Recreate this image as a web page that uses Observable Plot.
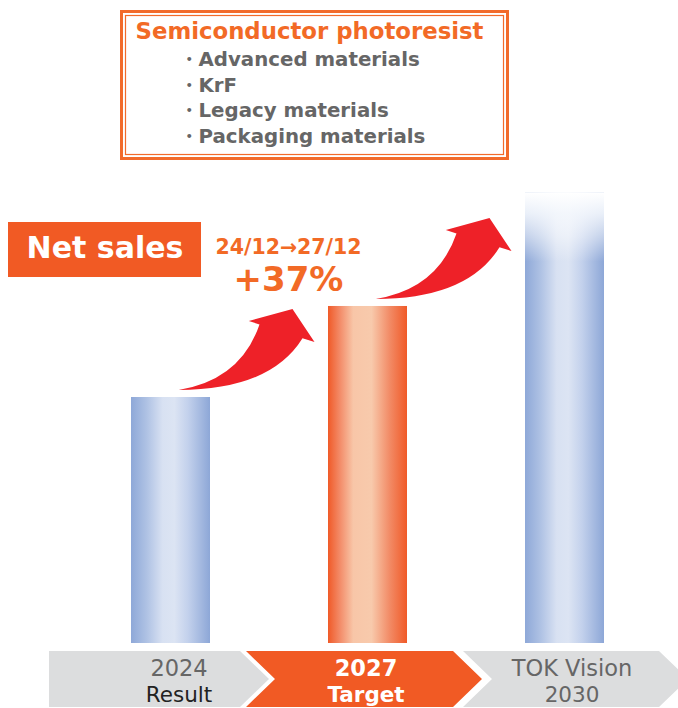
<!DOCTYPE html>
<html><head><meta charset="utf-8">
<script src="https://cdn.jsdelivr.net/npm/d3@7"></script>
<script src="https://cdn.jsdelivr.net/npm/@observablehq/plot@0.6"></script>
<style>body{margin:0;background:#fff} #chart{width:678px;height:708px}</style>
</head><body><div id="chart"></div>
<script>
// ---- data ----
const categories = ["2024", "2027", "2030"];
const netSales = [100, 137, 183];          // index: 2024 result = 100
const labelTop = ["2024", "2027", "TOK Vision"];
const labelBottom = ["Result", "Target", "2030"];
const seriesTitle = "Net sales";
const growthPeriod = "24/12→27/12";
const growthRate = "+37%";
const boxTitle = "Semiconductor photoresist";
const boxItems = ["Advanced materials", "KrF", "Legacy materials", "Packaging materials"];
const arrowPairs = [["2024", "2027"], ["2027", "2030"]];

const data = categories.map((c, i) => ({cat: c, value: netSales[i], top: labelTop[i], bottom: labelBottom[i]}));

const ORANGE = "#F15A24";
const FONT = "DejaVu Sans, Verdana, sans-serif";

// ---- decorations (render functions) ----
const defsMark = () => {
  const defs = d3.create("svg:defs");
  const grad = (id, stops, vertical) => {
    const g = defs.append("linearGradient").attr("id", id)
      .attr("x1", 0).attr("y1", 0).attr("x2", vertical ? 0 : 1).attr("y2", vertical ? 1 : 0);
    stops.forEach(([o, c, op = 1]) => g.append("stop").attr("offset", o).attr("stop-color", c).attr("stop-opacity", op));
  };
  grad("gBlue", [[0, "#8EA8D8"], [0.2, "#AFC2E4"], [0.4, "#D8E1F2"], [0.55, "#DCE4F3"], [0.72, "#C3D1EC"], [1, "#8DA7D7"]]);
  grad("gOrange", [[0, "#F05A28"], [0.15, "#F38B68"], [0.32, "#F8C6A8"], [0.55, "#F8CAAC"], [0.78, "#F28B66"], [1, "#F05A28"]]);
  grad("gFade", [[0, "#ffffff", 1], [0.3, "#f6f9fd", 0.88], [0.65, "#ffffff", 0.45], [1, "#ffffff", 0]], true);
  return defs.node();
};

const chevronMark = () => {
  const g = d3.create("svg:g");
  const yT = 651, yM = 679, yB = 707, s = 29;
  const edges = [[49, 240], [246, 453], [463, 659]];
  edges.forEach(([l, r], i) => {
    const pts = i === 0
      ? [[l, yT], [r, yT], [r + s, yM], [r, yB], [l, yB]]
      : [[l, yT], [r, yT], [r + s, yM], [r, yB], [l, yB], [l + s, yM]];
    g.append("polygon").attr("points", pts.map(p => p.join(",")).join(" "))
      .attr("fill", i === 1 ? ORANGE : "#DCDDDE");
  });
  return g.node();
};

const boxesMark = () => {
  const g = d3.create("svg:g");
  g.append("rect").attr("x", 121.5).attr("y", 11.5).attr("width", 386).attr("height", 147)
    .attr("fill", "#fff").attr("stroke", "#F26B2B").attr("stroke-width", 3);
  g.append("rect").attr("x", 125.5).attr("y", 15.5).attr("width", 378).attr("height", 139)
    .attr("fill", "none").attr("stroke", "#F26B2B").attr("stroke-width", 1.2);
  g.append("rect").attr("x", 8).attr("y", 222).attr("width", 193).attr("height", 55).attr("fill", ORANGE);
  return g.node();
};

const arrowMark = (index, scales) => {
  const x = scales.x, y = scales.y;
  const bw = x.bandwidth();
  const g = d3.create("svg:g");
  arrowPairs.forEach(([from]) => {
    const d = data.find(e => e.cat === from);
    const tx = x(from) + bw / 2 + 8, ty = y(d.value) - 7;
    const P = (px, py) => `${tx + px},${ty + py}`;
    const path = `M${P(0, 0)} Q${P(62, -10)} ${P(81, -65.5)} L${P(70.3, -69)} L${P(114, -81)} L${P(136, -48)} L${P(124, -51.7)} Q${P(92, 0)} ${P(0, 0)} Z`;
    g.append("path").attr("d", path).attr("fill", "#EE2128");
  });
  return g.node();
};

// ---- chevron labels ----
const labelDx = {"2024": 8, "2027": -2, "2030": 7};
const labelMarks = [];
data.forEach(d => {
  const hi = d.cat === "2027";
  labelMarks.push(Plot.text([d], {x: "cat", text: "top", frameAnchor: "bottom", dx: labelDx[d.cat], dy: -33,
    lineAnchor: "bottom", fontSize: 22.5, fontWeight: hi ? "bold" : "normal", fill: hi ? "#fff" : "#666", fontFamily: FONT}));
  labelMarks.push(Plot.text([d], {x: "cat", text: "bottom", frameAnchor: "bottom", dx: labelDx[d.cat], dy: -7,
    lineAnchor: "bottom", fontSize: 21.5, fontWeight: hi ? "bold" : "normal", fill: hi ? "#fff" : (d.cat === "2024" ? "#222" : "#666"), fontFamily: FONT}));
});

const chart = Plot.plot({
  width: 678, height: 708,
  marginTop: 0, marginRight: 0, marginBottom: 0, marginLeft: 0,
  x: {type: "band", domain: categories, range: [130, 604], paddingInner: 0.6, paddingOuter: 0, axis: null},
  y: {domain: [0, 200], range: [643, 151], axis: null},
  color: {type: "identity"},
  style: {background: "#fff", fontFamily: FONT, overflow: "visible"},
  marks: [
    defsMark,
    boxesMark,
    Plot.barY(data, {x: "cat", y: "value", fill: d => d.cat === "2027" ? "url(#gOrange)" : "url(#gBlue)"}),
    Plot.barY(data.filter(d => d.cat === "2030"), {x: "cat", y1: d => d.value - 28, y2: "value", fill: "url(#gFade)"}),
    arrowMark,
    chevronMark,
    ...labelMarks,
    Plot.text([boxTitle], {text: d => d, frameAnchor: "top-left", dx: 309, dy: 38, textAnchor: "middle", lineAnchor: "bottom",
      fontSize: 22.8, fontWeight: "bold", fill: "#F26A26", fontFamily: FONT}),
    Plot.text([boxItems.map(s => "・" + s).join("\n")], {text: d => d, frameAnchor: "top-left", dx: 178, dy: 142,
      textAnchor: "start", lineAnchor: "bottom", lineHeight: 25.5 / 19.8, fontSize: 19.8, fontWeight: "bold", fill: "#666", fontFamily: FONT}),
    Plot.text([seriesTitle], {text: d => d, frameAnchor: "top-left", dx: 104.5, dy: 257, textAnchor: "middle", lineAnchor: "bottom",
      fontSize: 30, fontWeight: "bold", fill: "#fff", fontFamily: FONT}),
    Plot.text([growthPeriod], {text: d => d, frameAnchor: "top-left", dx: 288, dy: 253, textAnchor: "middle", lineAnchor: "bottom",
      fontSize: 20.5, fontWeight: "bold", fill: "#F26A26", fontFamily: FONT}),
    Plot.text([growthRate], {text: d => d, frameAnchor: "top-left", dx: 288, dy: 290, textAnchor: "middle", lineAnchor: "bottom",
      fontSize: 34, fontWeight: "bold", fill: "#F26A26", fontFamily: FONT})
  ]
});
document.getElementById("chart").append(chart);
</script>
</body></html>
